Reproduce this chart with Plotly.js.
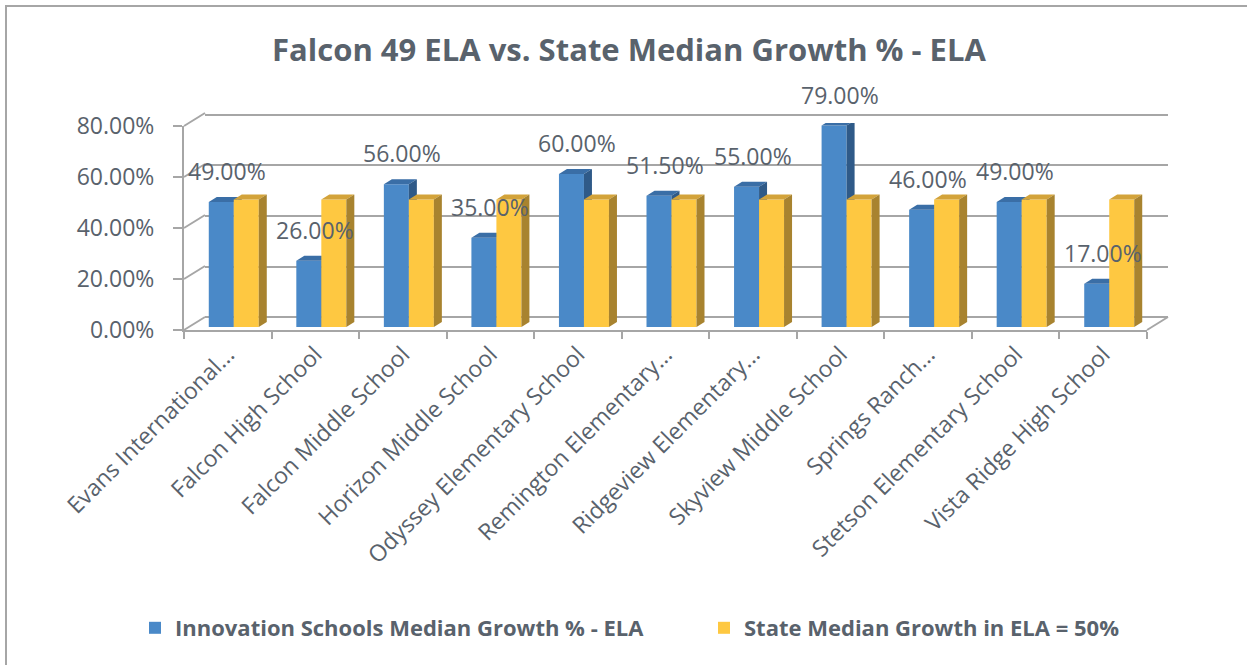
<!DOCTYPE html>
<html>
<head>
<meta charset="utf-8">
<script src="https://cdn.plot.ly/plotly-3.0.1.min.js"></script>
<style>html,body{margin:0;padding:0;background:#fff;}#chart{width:1247px;height:665px;}</style>
</head>
<body>
<div id="chart"></div>
<script>
// ---- data ----
const categories = [
  "Evans International...",
  "Falcon High School",
  "Falcon Middle School",
  "Horizon Middle School",
  "Odyssey Elementary School",
  "Remington Elementary...",
  "Ridgeview Elementary...",
  "Skyview Middle School",
  "Springs Ranch...",
  "Stetson Elementary School",
  "Vista Ridge High School"
];
const innovationGrowth = [0.49, 0.26, 0.56, 0.35, 0.60, 0.515, 0.55, 0.79, 0.46, 0.49, 0.17];
const stateMedian = [0.50, 0.50, 0.50, 0.50, 0.50, 0.50, 0.50, 0.50, 0.50, 0.50, 0.50];
const seriesNames = ["Innovation Schools Median Growth % - ELA", "State Median Growth in ELA = 50%"];
const yTickVals = [0, 0.2, 0.4, 0.6, 0.8];
const chartTitle = "Falcon 49 ELA vs. State Median Growth % - ELA";

// ---- geometry (pixels) ----
const W = 1247, H = 665;
const L = 184, R = 1168, T = 113, B = 330;
const PW = R - L, PH = B - T;
const wallDX = 21, wallDY = 13;      // back wall offset
const barDX = 6, barDY = 3;          // bar front-face offset
const depthDX = 8, depthDY = 5;      // bar depth
const frontW = PW - wallDX, frontH = PH - wallDY;
const nCat = categories.length;
const pxPerCat = frontW / nCat;
const yMax = 0.8;
const pxPerUnit = frontH / yMax;
const barW = 25 / pxPerCat;
const ddx = depthDX / pxPerCat, ddy = depthDY / pxPerUnit;
const idx = categories.map((_, i) => i);
const epsPx = 2, eps = epsPx / pxPerUnit;

const textColor = "#59626c";
const gridColor = "#a6a6a6";
const font = "Open Sans, Noto Sans, sans-serif";

function facePolys(vals, offset) {
  const top = {x: [], y: []}, side = {x: [], y: []};
  vals.forEach((v, i) => {
    const x0 = i + offset, x1 = x0 + barW;
    top.x.push(x0, x1, x1 + ddx, x0 + ddx, x0, null);
    top.y.push(v, v, v + ddy, v + ddy, v, null);
    side.x.push(x1, x1 + ddx, x1 + ddx, x1, x1, null);
    side.y.push(0, ddy, v + ddy, v, 0, null);
  });
  return {top, side};
}

const blueF = facePolys(innovationGrowth, -barW);
const yelF = facePolys(stateMedian, 0);

function face(poly, color, xa, ya) {
  return {type: "scatter", mode: "lines", x: poly.x, y: poly.y, fill: "toself",
    fillcolor: color, line: {width: 0, color: color}, xaxis: xa, yaxis: ya,
    showlegend: false, hoverinfo: "skip", cliponaxis: false};
}

const data = [
  {type: "scatter", mode: "markers", x: categories, y: categories.map(() => null),
   xaxis: "x", yaxis: "y", showlegend: false, hoverinfo: "skip"},
  {type: "scatter", mode: "markers", x: [0], y: [null], xaxis: "x2", yaxis: "y2",
   showlegend: false, hoverinfo: "skip"},
  {type: "bar", name: seriesNames[0], x: idx, y: innovationGrowth, width: barW, offset: -barW,
   marker: {color: "#4a89c8", line: {width: 0}}, xaxis: "x3", yaxis: "y3", cliponaxis: false,
   legend: "legend"},
  face(blueF.top, "#3a6ea6", "x3", "y3"),
  face(blueF.side, "#2f5a88", "x3", "y3"),
  {type: "bar", name: seriesNames[1], x: idx, y: stateMedian, width: barW, offset: 0,
   marker: {color: "#fec841", line: {width: 0}}, xaxis: "x4", yaxis: "y4", cliponaxis: false,
   legend: "legend2"},
  face(yelF.top, "#d3a33a", "x4", "y4"),
  face(yelF.side, "#a8832f", "x4", "y4")
];

const px2x = p => (p - L) / PW;
const px2y = p => (B - p) / PH;

const shapes = [];
shapes.push({type: "rect", xref: "paper", yref: "paper",
  x0: px2x(6), x1: px2x(1262), y0: px2y(6), y1: px2y(690),
  line: {color: gridColor, width: 2}, layer: "below"});
yTickVals.forEach(v => {
  const yf = (v / yMax) * frontH / PH;
  shapes.push({type: "line", xref: "paper", yref: "paper",
    x0: 0, y0: yf, x1: wallDX / PW, y1: yf + wallDY / PH,
    line: {color: gridColor, width: 2}});
});
shapes.push({type: "line", xref: "paper", yref: "paper",
  x0: frontW / PW, y0: 0, x1: 1, y1: wallDY / PH, line: {color: gridColor, width: 2}});

const annotations = innovationGrowth.map((v, i) => ({
  xref: "x3", yref: "y3", x: i - barW / 2 + 6 / pxPerCat, y: v,
  text: (v * 100).toFixed(2) + "%", showarrow: false, yanchor: "bottom", yshift: 8 + depthDY,
  font: {family: font, size: 23, color: textColor}
}));

const hidden = {visible: true, showgrid: false, zeroline: false, showticklabels: false,
  showline: false, ticks: "", fixedrange: true, automargin: false};

const legendFont = {family: font, size: 22, weight: 700, color: textColor};

const layout = {
  width: W, height: H,
  margin: {l: L, r: W - R, t: T, b: H - B, pad: 0, autoexpand: false},
  paper_bgcolor: "#ffffff", plot_bgcolor: "rgba(0,0,0,0)",
  showlegend: true,
  title: {text: chartTitle, xref: "container", x: 629 / W, xanchor: "center",
    yref: "container", y: 1 - 50 / H, yanchor: "middle",
    font: {family: font, size: 31, weight: 700, color: textColor}},
  xaxis: {domain: [0, frontW / PW], type: "category", categoryorder: "array", categoryarray: categories,
    range: [-0.5, nCat - 0.5], tickson: "boundaries", ticks: "outside", ticklen: 7, tickwidth: 2,
    tickcolor: gridColor, showline: true, linecolor: gridColor, linewidth: 2, showgrid: false,
    zeroline: false, tickangle: -45, tickfont: {family: font, size: 23, color: textColor},
    anchor: "y", fixedrange: true, automargin: false},
  yaxis: {domain: [0, frontH / PH], range: [0, yMax], tickvals: yTickVals, tickformat: ".2%",
    ticks: "outside", ticklen: 9, tickwidth: 2, tickcolor: gridColor, showline: true,
    linecolor: gridColor, linewidth: 2, showgrid: false, zeroline: false, ticklabelstandoff: 14,
    tickfont: {family: font, size: 23, color: textColor}, anchor: "x", fixedrange: true, automargin: false},
  xaxis2: Object.assign({}, hidden, {domain: [wallDX / PW, 1], range: [-0.5, nCat - 0.5], anchor: "y2"}),
  yaxis2: Object.assign({}, hidden, {domain: [(wallDY - epsPx) / PH, (PH + epsPx) / PH],
    range: [-eps, yMax + eps], tickvals: yTickVals,
    showgrid: true, gridcolor: gridColor, gridwidth: 2, anchor: "x2"}),
  xaxis3: Object.assign({}, hidden, {domain: [barDX / PW, (barDX + frontW) / PW], range: [-0.5, nCat - 0.5], anchor: "y3"}),
  yaxis3: Object.assign({}, hidden, {domain: [barDY / PH, (barDY + frontH) / PH], range: [0, yMax], anchor: "x3"}),
  xaxis4: Object.assign({}, hidden, {domain: [barDX / PW, (barDX + frontW) / PW], range: [-0.5, nCat - 0.5], anchor: "y4"}),
  yaxis4: Object.assign({}, hidden, {domain: [barDY / PH, (barDY + frontH) / PH], range: [0, yMax], anchor: "x4"}),
  legend: {orientation: "h", x: px2x(135), xanchor: "left", y: px2y(628), yanchor: "middle",
    font: legendFont, itemwidth: 30, bgcolor: "rgba(0,0,0,0)"},
  legend2: {orientation: "h", x: px2x(704), xanchor: "left", y: px2y(628), yanchor: "middle",
    font: legendFont, itemwidth: 30, bgcolor: "rgba(0,0,0,0)"},
  shapes: shapes,
  annotations: annotations
};

Plotly.newPlot("chart", data, layout, {displayModeBar: false, staticPlot: true});
</script>
</body>
</html>
